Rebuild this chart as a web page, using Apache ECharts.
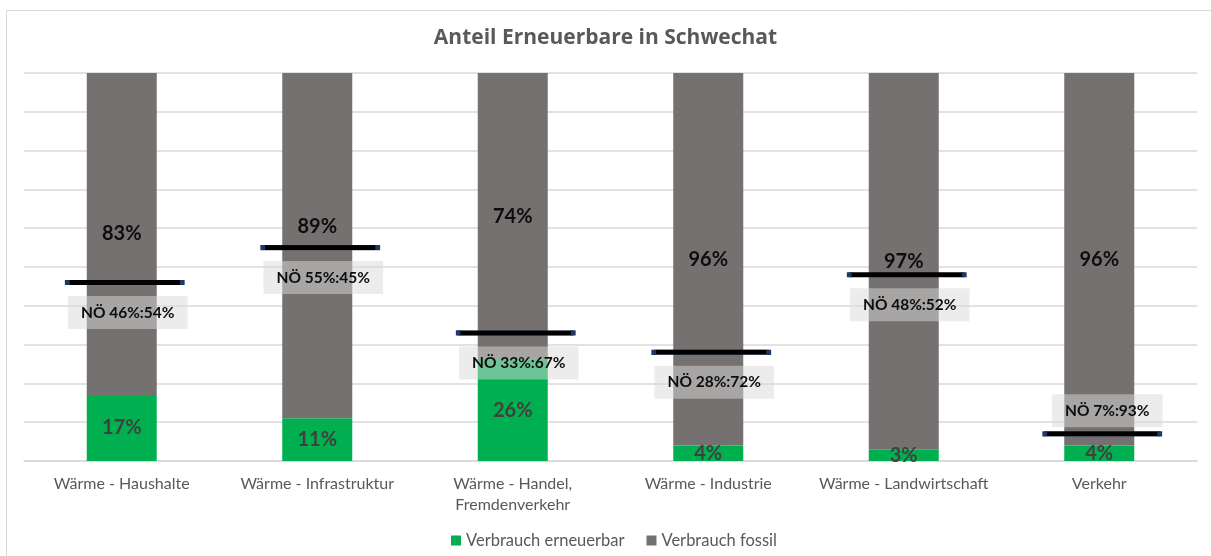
<!DOCTYPE html>
<html style="height: 100%">
<head>
    <meta charset="utf-8">
    <script src="https://cdn.jsdelivr.net/npm/echarts@6/dist/echarts.min.js"></script>
</head>
<body style="height: 100%; margin: 0; background: #fff">
<div id="container" style="width: 1211px; height: 556px"></div>
<script>
    // Daten
    var categories = ['Wärme - Haushalte', 'Wärme - Infrastruktur', 'Wärme - Handel,\nFremdenverkehr',
        'Wärme - Industrie', 'Wärme - Landwirtschaft', 'Verkehr'];
    var erneuerbar = [17, 11, 26, 4, 3, 4];
    var fossil = [83, 89, 74, 96, 97, 96];
    var noeErneuerbar = [46, 55, 33, 28, 48, 7];
    var noeFossil = [54, 45, 67, 72, 52, 93];

    var font = 'Lato, "Open Sans", sans-serif';
    var dom = document.getElementById('container');
    var myChart = echarts.init(dom);

    var noeData = noeErneuerbar.map(function (v, i) {
        var oben = categories[i] === 'Verkehr';
        return {
            value: v,
            label: {
                formatter: 'NÖ ' + v + '%:' + noeFossil[i] + '%',
                offset: oben ? [5, -23] : [3, 30]
            }
        };
    });

    // 89% Beschriftung sitzt im Original etwas höher (über der NÖ-Linie)
    var fossilData = fossil.map(function (v, i) {
        if (categories[i] === 'Wärme - Infrastruktur') {
            return {value: v, label: {offset: [0, -19]}};
        }
        return v;
    });

    var option = {
        backgroundColor: '#fff',
        textStyle: {fontFamily: font},
        title: {
            text: 'Anteil Erneuerbare in Schwechat',
            left: 'center',
            top: 23,
            textStyle: {fontFamily: '"Open Sans", sans-serif', fontSize: 21, fontWeight: 'bold', color: '#595959'}
        },
        legend: {
            data: ['Verbrauch erneuerbar', 'Verbrauch fossil'],
            bottom: 7,
            left: 451,
            padding: 0,
            itemWidth: 10,
            itemHeight: 10,
            itemGap: 22,
            icon: 'rect',
            textStyle: {fontFamily: font, fontSize: 16.5, color: '#595959'}
        },
        graphic: [{
            type: 'rect',
            shape: {x: 6.5, y: 10.5, width: 1300, height: 700},
            style: {fill: 'none', stroke: '#d9d9d9', lineWidth: 1},
            silent: true
        }],
        grid: {left: 24, right: 14, top: 73, bottom: 95},
        xAxis: {
            type: 'category',
            data: categories,
            axisTick: {show: false},
            axisLine: {lineStyle: {color: '#d9d9d9', width: 1.5}},
            axisLabel: {interval: 0, fontFamily: font, fontSize: 16, color: '#595959', margin: 12, lineHeight: 21}
        },
        yAxis: {
            type: 'value',
            min: 0,
            max: 100,
            interval: 10,
            axisLabel: {show: false},
            axisLine: {show: false},
            axisTick: {show: false},
            splitLine: {lineStyle: {color: '#d9d9d9', width: 1.5}}
        },
        series: [
            {
                name: 'Verbrauch erneuerbar',
                type: 'bar',
                stack: 'gesamt',
                barWidth: 70,
                color: '#00b050',
                label: {
                    show: true, position: 'inside', formatter: '{c}%',
                    fontFamily: font, fontSize: 20, fontWeight: 'bold', color: '#404040'
                },
                data: erneuerbar
            },
            {
                name: 'Verbrauch fossil',
                type: 'bar',
                stack: 'gesamt',
                barWidth: 70,
                color: '#767171',
                label: {
                    show: true, position: 'inside', formatter: '{c}%',
                    fontFamily: font, fontSize: 20, fontWeight: 'bold', color: '#0d0d0d'
                },
                data: fossilData
            },
            {
                name: 'NÖ',
                type: 'scatter',
                symbol: 'rect',
                symbolSize: [115, 5],
                symbolOffset: [3, 0],
                z: 5,
                itemStyle: {color: '#000', borderColor: '#203864', borderWidth: 1, opacity: 1},
                label: {
                    show: true,
                    position: 'inside',
                    fontFamily: font,
                    fontSize: 15.5,
                    fontWeight: 'bold',
                    color: '#0d0d0d',
                    backgroundColor: 'rgba(217,217,217,0.5)',
                    padding: [9, 13, 8, 13]
                },
                emphasis: {disabled: true},
                data: noeData
            }
        ]
    };
    myChart.setOption(option, true);
</script>
</body>
</html>
